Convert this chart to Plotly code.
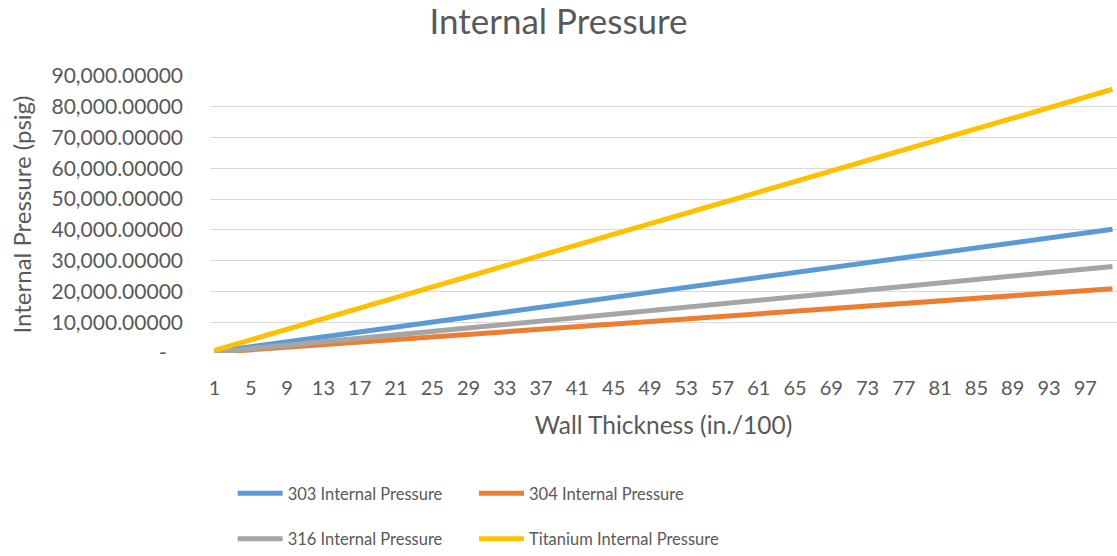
import plotly.graph_objects as go

# Wall thickness (in./100) sample points
thickness = [1, 13, 25, 37, 49, 61, 73, 85, 97, 100]
p303 = [402, 5230, 10050, 14870, 19700, 24520, 29350, 34170, 38990, 40200]
p304 = [209, 2720, 5230, 7730, 10240, 12750, 15260, 17770, 20270, 20900]
p316 = [281, 3650, 7020, 10400, 13770, 17140, 20510, 23890, 27260, 28100]
pti = [857, 11140, 21430, 31710, 41990, 52280, 62560, 72850, 83130, 85700]

x_ticks = list(range(1, 100, 4))
y_ticks = [0, 10000, 20000, 30000, 40000, 50000, 60000, 70000, 80000, 90000]
y_ticktext = ["-\u00a0\u00a0\u00a0"] + [f"{v:,.5f}" for v in y_ticks[1:]]

FONT = "Lato"
GREY = "#595959"

fig = go.Figure()
# legend = left column, legend2 = right column
series = [
    ("303 Internal Pressure", p303, "#5B9BD5", "legend"),
    ("304 Internal Pressure", p304, "#ED7D31", "legend2"),
    ("316 Internal Pressure", p316, "#A5A5A5", "legend"),
    ("Titanium Internal Pressure", pti, "#FFC000", "legend2"),
]
for name, ys, color, lg in series:
    fig.add_trace(go.Scatter(x=thickness, y=ys, mode="lines", name=name,
                             line=dict(color=color, width=5), legend=lg,
                             legendgroup=name))

leg_common = dict(orientation="v", xanchor="left", yanchor="top",
                  y=(356 - 481) / 280, itemwidth=45, tracegroupgap=21,
                  font=dict(size=16.5, color=GREY, family=FONT),
                  bgcolor="rgba(0,0,0,0)")

fig.update_layout(
    width=1117, height=556,
    margin=dict(l=210, r=0, t=76, b=200),
    paper_bgcolor="white", plot_bgcolor="white",
    font=dict(family=FONT, color=GREY),
    title=dict(text="Internal Pressure", x=0.5, xanchor="center", xref="container",
               y=1 - 22 / 556, yanchor="middle", yref="container",
               font=dict(size=35, color=GREY, family=FONT)),
    xaxis=dict(range=[0.5, 100.5], tickmode="array", tickvals=x_ticks,
               ticktext=[str(v) for v in x_ticks], showgrid=False, zeroline=False,
               showline=False, ticks="", ticklabelstandoff=21, automargin=False,
               tickfont=dict(size=20, color=GREY, family=FONT),
               title=dict(text="Wall Thickness (in./100)", standoff=18,
                          font=dict(size=24.5, color=GREY, family=FONT))),
    yaxis=dict(range=[0, 90000], tickmode="array", tickvals=y_ticks,
               ticktext=y_ticktext, showgrid=True, gridcolor="#D9D9D9", gridwidth=1,
               zeroline=False, showline=False, ticks="", ticklabelstandoff=26,
               automargin=False,
               tickfont=dict(size=21, color=GREY, family=FONT),
               title=dict(text="Internal Pressure (psig)", standoff=13,
                          font=dict(size=24, color=GREY, family=FONT))),
    legend=dict(x=0.025, **leg_common),
    legend2=dict(x=(479 - 5 - 210) / 907, **leg_common),
)

fig.write_html("out.html")
